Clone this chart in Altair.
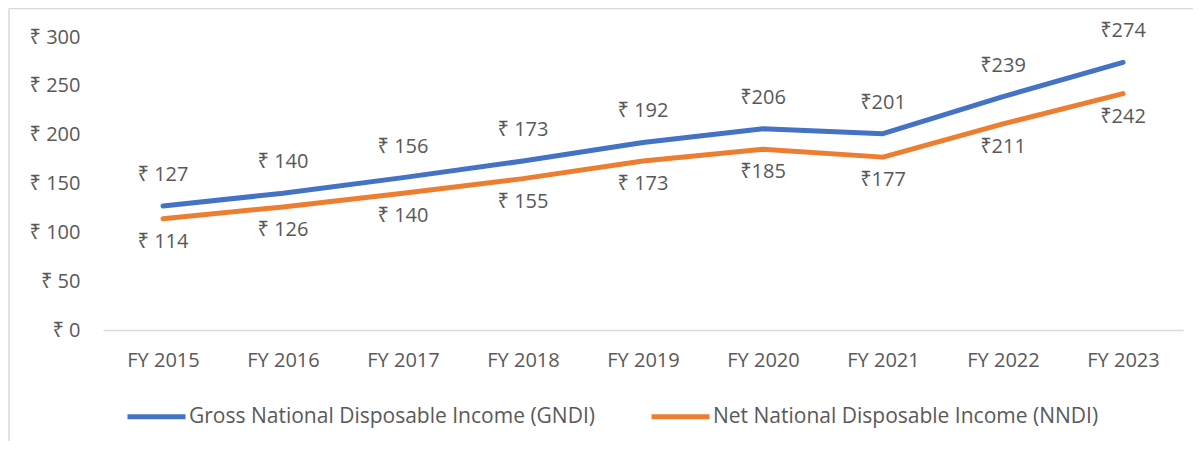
import altair as alt
import pandas as pd

years = ["FY 2015", "FY 2016", "FY 2017", "FY 2018", "FY 2019",
         "FY 2020", "FY 2021", "FY 2022", "FY 2023"]
gndi = [127, 140, 156, 173, 192, 206, 201, 239, 274]
nndi = [114, 126, 140, 155, 173, 185, 177, 211, 242]
label_prefix = ["₹ ", "₹ ", "₹ ", "₹ ", "₹ ", "₹", "₹", "₹", "₹"]

G = "Gross National Disposable Income (GNDI)"
N = "Net National Disposable Income (NNDI)"

rows = []
for yr, g, n, p in zip(years, gndi, nndi, label_prefix):
    rows.append({"year": yr, "series": G, "value": g, "label": f"{p}{g}"})
    rows.append({"year": yr, "series": N, "value": n, "label": f"{p}{n}"})
df = pd.DataFrame(rows)

TXT = "#595959"
FONT = "Open Sans, Noto Sans, sans-serif"

base = alt.Chart(df)

x = alt.X("year:N", sort=years, axis=alt.Axis(
    title=None, labelAngle=0, ticks=False, grid=False,
    domainColor="#D9D9D9", domainWidth=1.5,
    labelPadding=20, labelFontSize=20, labelColor=TXT, labelFont=FONT))
y = alt.Y("value:Q", scale=alt.Scale(domain=[0, 300]), axis=alt.Axis(
    title=None, values=[0, 50, 100, 150, 200, 250, 300],
    labelExpr="'₹ ' + datum.value", domain=False, ticks=False, grid=False,
    labelPadding=23, labelFontSize=20, labelColor=TXT, labelFont=FONT))
color = alt.Color("series:N", sort=[G, N],
                  scale=alt.Scale(domain=[G, N], range=["#4472C4", "#ED7D31"]),
                  legend=alt.Legend(title=None, orient="none", legendX=22, legendY=348,
                                    direction="horizontal", symbolType="stroke",
                                    symbolSize=3364, symbolStrokeWidth=5,
                                    labelFontSize=21, labelColor=TXT, labelFont=FONT,
                                    labelLimit=0, columnPadding=46, labelOffset=1,
                                    padding=0))

lines = base.mark_line(strokeWidth=5, strokeCap="round", strokeJoin="round").encode(
    x=x, y=y, color=color)

top_labels = base.transform_filter(alt.datum.series == G).mark_text(
    dy=-31, fontSize=20, color=TXT, font=FONT, baseline="middle").encode(
    x=x, y=y, text="label:N")
bottom_labels = base.transform_filter(alt.datum.series == N).mark_text(
    dy=23, fontSize=20, color=TXT, font=FONT, baseline="middle").encode(
    x=x, y=y, text="label:N")

frame_df = pd.DataFrame({"k": [0]})
left_border = alt.Chart(frame_df).mark_rule(color="#D9D9D9", strokeWidth=1.5).encode(
    x=alt.value(-94), y=alt.value(-28.5), y2=alt.value(420))
top_border = alt.Chart(frame_df).mark_rule(color="#D9D9D9", strokeWidth=1.5).encode(
    x=alt.value(-94), x2=alt.value(1100), y=alt.value(-28.5))

chart = alt.layer(left_border, top_border, lines, top_labels, bottom_labels).properties(
    width=1080, height=293,
    autosize=alt.AutoSizeParams(type="none"),
    padding={"left": 95, "top": 29, "right": 10, "bottom": 111},
).configure(font=FONT, view=alt.ViewConfig(stroke=None))

chart.save("out.html", embed_options={"renderer": "svg", "actions": False})
